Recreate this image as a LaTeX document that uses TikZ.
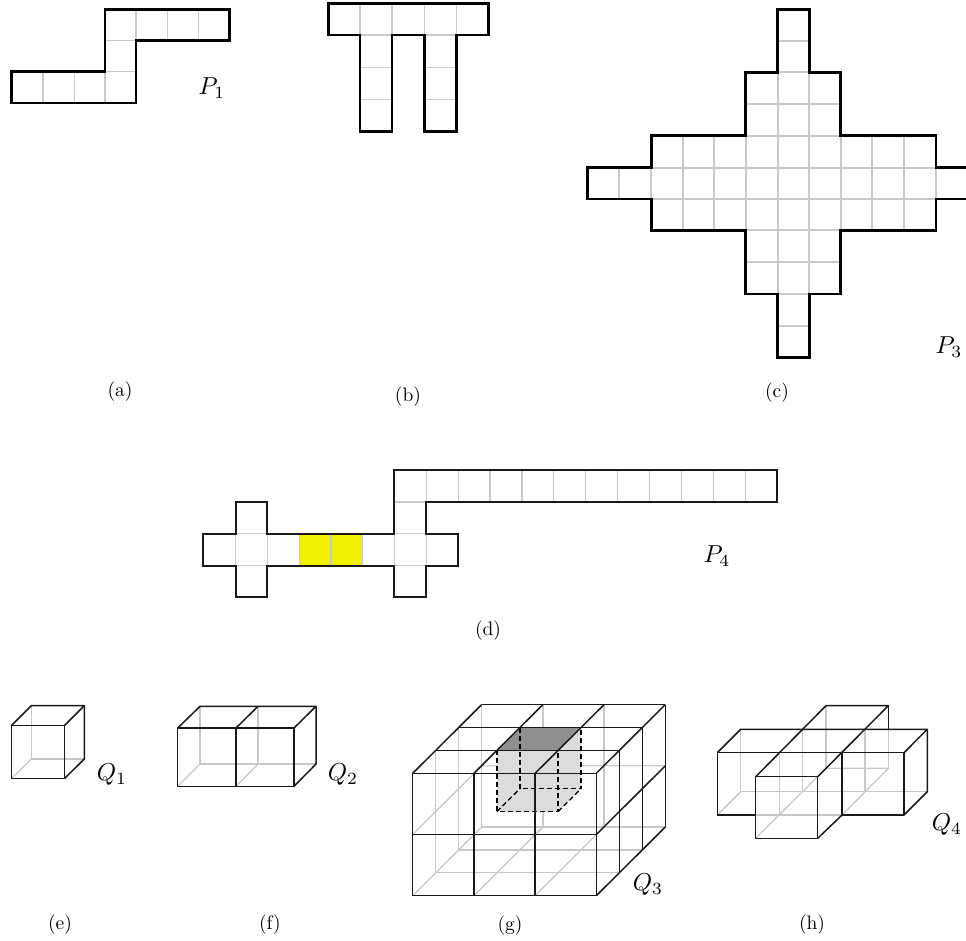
\documentclass[tikz,border=0pt]{standalone}
\definecolor{gridgray}{HTML}{C9C9C9}
\definecolor{hiddengray}{HTML}{C8C8C8}
\definecolor{cubelight}{HTML}{DCDCDC}
\definecolor{cubedark}{HTML}{8F8F8F}
\definecolor{cellyellow}{HTML}{EFEF00}
\tikzset{
  outlinethick/.style={draw=black,line width=2.8pt,line join=miter},
  outlinemid/.style={draw=black!90,line width=2pt,line join=miter},
  cellgrid/.style={draw=gridgray,line width=1.2pt},
  cellgridwide/.style={draw=gridgray,line width=1.7pt},
  hid/.style={draw=hiddengray,line width=1.3pt},
  vis/.style={draw=black!90,line width=1.5pt,line join=round},
  dashline/.style={draw=black,line width=1.3pt,dash pattern=on 5pt off 3pt},
  caplabel/.style={inner sep=0pt,scale=1.95},
  mathlabel/.style={inner sep=0pt,scale=2.45}
}
\begin{document}
\begin{tikzpicture}[x=1pt,y=-1pt]
\useasboundingbox (0,0) rectangle (966,941);
\clip (0,0) rectangle (966,941);

% ---------- P1
\begin{scope}
\foreach \x in {42.9,74.1,105} \draw[cellgrid] (\x,71.7) -- (\x,103);
\draw[cellgrid] (105,71.7) -- (136,71.7);
\draw[cellgrid] (105,40.7) -- (136,40.7);
\foreach \x in {136,167.2,198.5} \draw[cellgrid] (\x,9.7) -- (\x,40.7);
\draw[outlinethick] (11.7,71.7) -- (105,71.7) -- (105,9.7) -- (229.7,9.7) -- (229.7,40.7) -- (136,40.7) -- (136,103) -- (11.7,103) -- cycle;
\end{scope}
\node[mathlabel] (p1) at (212,88) {$P_1$};
\node[caplabel] (a) at (120,392) {(a)};

% ---------- P2
\begin{scope}
\foreach \x in {360,392,424.5,456.5} \draw[cellgrid] (\x,3.3) -- (\x,35);
\foreach \x/\w in {360/392,424.5/456.5} {
  \foreach \y in {35,67.7,99.3} \draw[cellgrid] (\x,\y) -- (\w,\y);
}
\draw[outlinethick] (328.3,3.3) -- (488.7,3.3) -- (488.7,35) -- (456.5,35) -- (456.5,131.3) -- (424.5,131.3) -- (424.5,35) -- (392,35) -- (392,131.3) -- (360,131.3) -- (360,35) -- (328.3,35) -- cycle;
\end{scope}
\node[caplabel] (b) at (408,397) {(b)};

% ---------- P3
\begin{scope}
\draw[cellgridwide] (619.3,167.7) -- (619.3,199);
\draw[cellgridwide] (651.3,167.7) -- (651.3,199);
\draw[cellgridwide] (936,167.7) -- (936,199);
\foreach \x in {682.9,714.3,745.7,840.7,872.3,904} \draw[cellgridwide] (\x,135.7) -- (\x,230.3);
\foreach \x in {777.7,809.3} \draw[cellgridwide] (\x,72.3) -- (\x,294);
\foreach \x in {745.7,840.7} \draw[cellgridwide] (\x,72.3) -- (\x,294);
\foreach \y in {167.7,199} \draw[cellgridwide] (651.3,\y) -- (936,\y);
\foreach \y in {135.7,230.3,104,262.3} \draw[cellgridwide] (745.7,\y) -- (840.7,\y);
\foreach \y in {40.7,72.3,294,325.7} \draw[cellgridwide] (777.7,\y) -- (809.3,\y);
\draw[outlinethick] (587.3,167.7) -- (651.3,167.7) -- (651.3,135.7) -- (745.7,135.7) -- (745.7,72.3) -- (777.7,72.3) -- (777.7,9.3) -- (809.3,9.3) -- (809.3,72.3) -- (840.7,72.3) -- (840.7,135.7) -- (936,135.7) -- (936,167.7) -- (972,167.7) -- (972,199) -- (936,199) -- (936,230.3) -- (840.7,230.3) -- (840.7,294) -- (809.3,294) -- (809.3,357.3) -- (777.7,357.3) -- (777.7,294) -- (745.7,294) -- (745.7,230.3) -- (651.3,230.3) -- (651.3,199) -- (587.3,199) -- cycle;
\end{scope}
\node[mathlabel] (p3) at (949,347) {$P_3$};
\node[caplabel] (c) at (777,393) {(c)};

% ---------- P4
\begin{scope}
\fill[cellyellow] (299.3,533.7) rectangle (362.7,565.7);
\foreach \x in {235.7,267.3,299.3,331,362.7,394.3,426.3} \draw[cellgrid] (\x,533.7) -- (\x,565.7);
\foreach \x/\w in {235.7/267.3,394.3/426.3} {
  \draw[cellgrid] (\x,533.7) -- (\w,533.7);
  \draw[cellgrid] (\x,565.7) -- (\w,565.7);
}
\draw[cellgrid] (394.3,502) -- (426.3,502);
\foreach \k in {1,...,11} \draw[cellgrid] ({394.3+31.9*\k},470) -- ({394.3+31.9*\k},502);
\draw[outlinemid] (203.3,533.7) -- (235.7,533.7) -- (235.7,502) -- (267.3,502) -- (267.3,533.7) -- (394.3,533.7) -- (394.3,470) -- (777,470) -- (777,502) -- (426.3,502) -- (426.3,533.7) -- (458.3,533.7) -- (458.3,565.7) -- (426.3,565.7) -- (426.3,597.3) -- (394.3,597.3) -- (394.3,565.7) -- (267.3,565.7) -- (267.3,597.3) -- (235.7,597.3) -- (235.7,565.7) -- (203.3,565.7) -- cycle;
\end{scope}
\node[mathlabel] (p4) at (717,556) {$P_4$};
\node[caplabel] (d) at (488,631) {(d)};

% ---------- Q1
\begin{scope}
\draw[hid] (31.3,705.7) -- (31.3,759) -- (84.3,759);
\draw[hid] (11.3,778.7) -- (31.3,759);
\draw[vis] (11.3,725.7) rectangle (64.3,778.7);
\draw[vis] (11.3,725.7) -- (31.3,705.7) -- (84.3,705.7) -- (64.3,725.7);
\draw[vis] (84.3,705.7) -- (84.3,759) -- (64.3,778.7);
\end{scope}
\node[mathlabel] (q1) at (112,775) {$Q_1$};
\node[caplabel] (e) at (60,925) {(e)};

% ---------- Q2
\begin{scope}
\draw[hid] (200,706.3) -- (200,764) -- (316,764);
\draw[hid] (258,706.3) -- (258,764);
\draw[hid] (177.7,786.3) -- (200,764);
\draw[hid] (236,786.3) -- (258,764);
\draw[vis] (177.7,728) rectangle (294,786.3);
\draw[vis] (236,728) -- (236,786.3);
\draw[vis] (177.7,728) -- (200,706.3) -- (316,706.3) -- (294,728);
\draw[vis] (236,728) -- (258,706.3);
\draw[vis] (316,706.3) -- (316,764) -- (294,786.3);
\end{scope}
\node[mathlabel] (q2) at (343,775) {$Q_2$};
\node[caplabel] (f) at (270,925) {(f)};

% ---------- Q3
\begin{scope}[shift={(412.7,895.7)},x={(61.2pt,0pt)},y={(23pt,22.9pt)},z={(0pt,61.2pt)}]
\foreach \i in {0,1,2} \draw[hid] (\i,0,0) -- (\i,3,0);
\foreach \d in {1,2,3} {
  \draw[hid] (0,\d,0) -- (3,\d,0);
  \draw[hid] (0,\d,0) -- (0,\d,2);
}
\draw[hid] (0,0,1) -- (0,3,1) -- (3,3,1);
\foreach \i in {1,2} \draw[hid] (\i,3,0) -- (\i,3,2);
% highlighted cube
\fill[cubelight] (1,1,1) -- (2,1,1) -- (2,2,1) -- (2,2,2) -- (2,1,2) -- (1,1,2) -- cycle;
\fill[cubedark] (1,1,2) -- (2,1,2) -- (2,2,2) -- (1,2,2) -- cycle;
\draw[dashline] (1,1,2) -- (1,1,1) -- (2,1,1) -- (2,1,2);
\draw[dashline] (1,2,2) -- (1,2,1) -- (2,2,1) -- (2,2,2);
\draw[dashline] (1,1,1) -- (1,2,1);
\draw[dashline] (2,1,1) -- (2,2,1);
% visible faces
\foreach \i in {0,1,2,3} {
  \draw[vis] (\i,0,0) -- (\i,0,2);
  \draw[vis] (\i,0,2) -- (\i,3,2);
}
\foreach \h in {0,1,2} \draw[vis] (0,0,\h) -- (3,0,\h);
\foreach \d in {1,2,3} {
  \draw[vis] (0,\d,2) -- (3,\d,2);
  \draw[vis] (3,\d,0) -- (3,\d,2);
}
\foreach \h in {0,1} \draw[vis] (3,0,\h) -- (3,3,\h);
\end{scope}
\node[mathlabel] (q3) at (648,885) {$Q_3$};
\node[caplabel] (g) at (510,926) {(g)};

% ---------- Q4
\begin{scope}
\draw[hid] (740.7,729.3) -- (740.7,791.7) -- (927.3,791.7);
\draw[hid] (717.3,815) -- (740.7,791.7);
\draw[hid] (755.7,815) -- (842,815);
\draw[hid] (755.7,838.3) -- (826,768.3) -- (888.3,768.3) -- (842,815);
\draw[hid] (826,705.7) -- (826,768.3);
\draw[hid] (888.3,729.3) -- (888.3,768.3);
\draw[hid] (779.3,752.7) -- (779.3,815);
\draw[hid] (802.7,729.3) -- (802.7,791.7);
\draw[hid] (865,729.3) -- (865,791.7);
\draw[vis] (717.3,815) -- (717.3,752.7) -- (904,752.7) -- (904,815) -- (842,815) -- (842,752.7);
\draw[vis] (717.3,815) -- (755.7,815);
\draw[vis] (717.3,752.7) -- (740.7,729.3) -- (927.3,729.3) -- (904,752.7);
\draw[vis] (927.3,729.3) -- (927.3,791.7) -- (904,815);
\draw[vis] (755.7,776.7) rectangle (817.7,838.3);
\draw[vis] (755.7,776.7) -- (826,705.7) -- (888.3,705.7) -- (817.7,776.7);
\draw[vis] (888.3,705.7) -- (888.3,729.3);
\draw[vis] (817.7,838.3) -- (842,815);
\end{scope}
\node[mathlabel] (q4) at (947,825) {$Q_4$};
\node[caplabel] (h) at (812,925) {(h)};
\end{tikzpicture}
\end{document}
